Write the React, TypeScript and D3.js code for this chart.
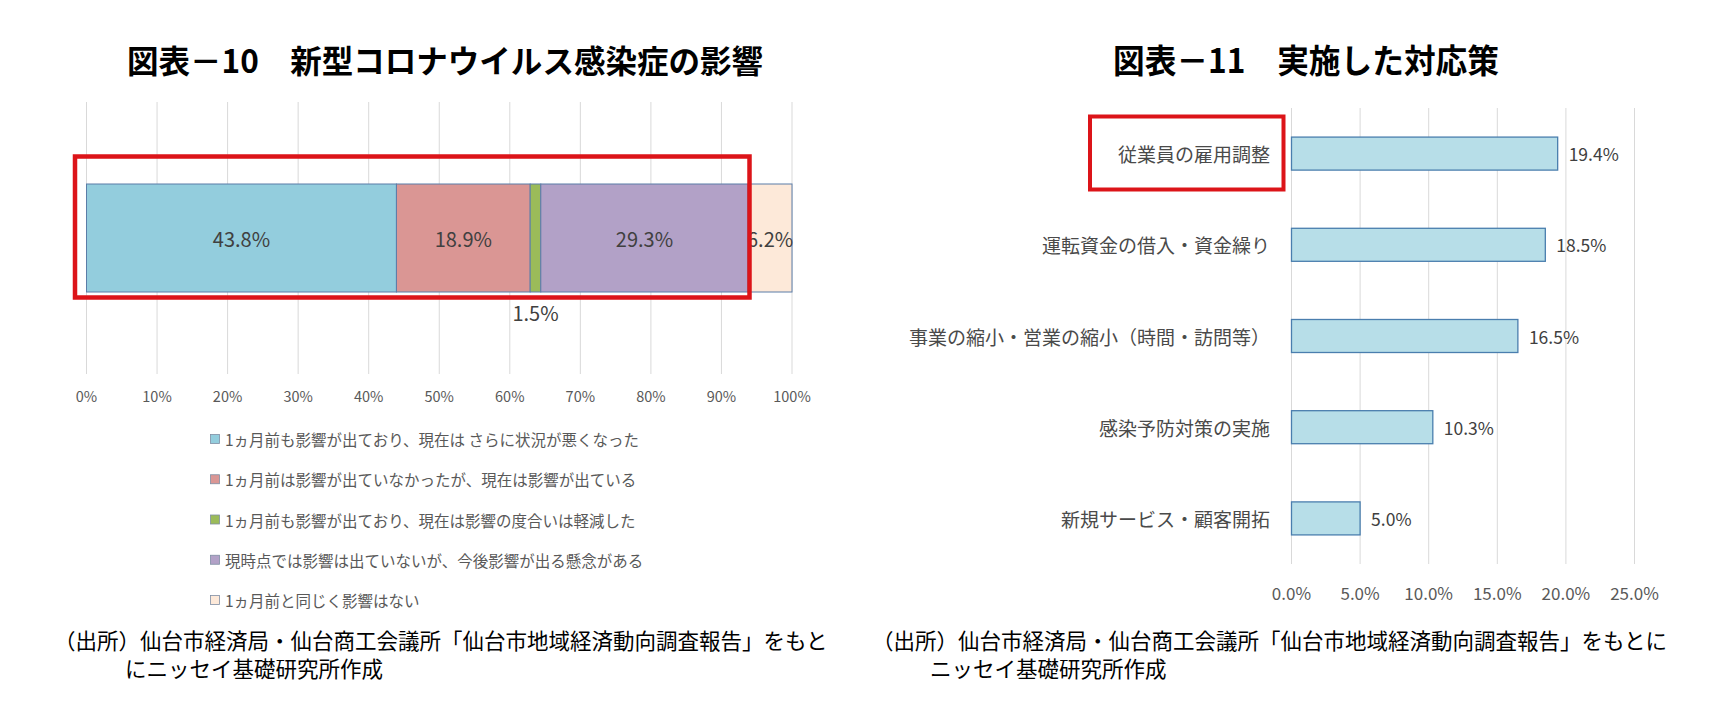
import React from 'react';
import * as d3 from 'd3';

// 図表－10 data (100% stacked bar)
const impactLabels: string[] = [
  '1ヵ月前も影響が出ており、現在は さらに状況が悪くなった',
  '1ヵ月前は影響が出ていなかったが、現在は影響が出ている',
  '1ヵ月前も影響が出ており、現在は影響の度合いは軽減した',
  '現時点では影響は出ていないが、今後影響が出る懸念がある',
  '1ヵ月前と同じく影響はない',
];
const impactValues: number[] = [43.8, 18.9, 1.5, 29.3, 6.2];
const impactColors: string[] = ['#93CDDD', '#DA9694', '#9BBB59', '#B2A1C7', '#FDE9D9'];
const leftTicks: number[] = [0, 0.1, 0.2, 0.3, 0.4, 0.5, 0.6, 0.7, 0.8, 0.9, 1];

// 図表－11 data
const measureCategories: string[] = [
  '従業員の雇用調整',
  '運転資金の借入・資金繰り',
  '事業の縮小・営業の縮小（時間・訪問等）',
  '感染予防対策の実施',
  '新規サービス・顧客開拓',
];
const measureValues: number[] = [19.4, 18.5, 16.5, 10.3, 5.0];
const rightTicks: number[] = [0, 0.05, 0.1, 0.15, 0.2, 0.25];

const titleLeft = '図表－10　新型コロナウイルス感染症の影響';
const titleRight = '図表－11　実施した対応策';
const noteLeft = ['（出所）仙台市経済局・仙台商工会議所「仙台市地域経済動向調査報告」をもと', 'にニッセイ基礎研究所作成'];
const noteRight = ['（出所）仙台市経済局・仙台商工会議所「仙台市地域経済動向調査報告」をもとに', 'ニッセイ基礎研究所作成'];

const FONT = "'Noto Sans CJK JP', 'Noto Sans', sans-serif";
const W = 1719;
const H = 720;

const App = () => {
  // left chart scales
  const xL = d3.scaleLinear().domain([0, 1]).range([86.5, 792]);
  const barTop = 184;
  const barBottom = 292;
  const total = d3.sum(impactValues);
  const stacked = impactValues.map((v, i) => {
    const start = d3.sum(impactValues.slice(0, i)) / total;
    return { v, i, x0: start, x1: start + v / total };
  });
  const legendY = d3.scalePoint<number>().domain(d3.range(impactLabels.length)).range([439, 600]);

  // right chart scales
  const xR = d3.scaleLinear().domain([0, 0.25]).range([1291.5, 1634.5]);
  const yR = d3.scaleBand<string>().domain(measureCategories).range([108, 564]).paddingInner(0.638).paddingOuter(0.319);

  return (
    <svg width={W} height={H} style={{ position: 'absolute', left: 0, top: 0, background: '#fff' }} fontFamily={FONT}>
      <rect width={W} height={H} fill="#fff" />

      {/* ---------- left chart ---------- */}
      <text x={445} y={59} textAnchor="middle" dominantBaseline="central" fontSize={32} fontWeight={700} fill="#000"
        textLength={636} lengthAdjust="spacingAndGlyphs">{titleLeft}</text>

      {leftTicks.map((t) => (
        <g key={'lg' + t}>
          <line x1={xL(t)} x2={xL(t)} y1={102} y2={374} stroke="#d9d9d9" strokeWidth={1} />
          <text x={xL(t)} y={395} textAnchor="middle" dominantBaseline="central" fontSize={14.5} fill="#595959">
            {d3.format('.0%')(t)}
          </text>
        </g>
      ))}

      {stacked.map((s) => (
        <rect key={'seg' + s.i} x={xL(s.x0)} y={barTop} width={xL(s.x1) - xL(s.x0)} height={barBottom - barTop}
          fill={impactColors[s.i]} stroke="#5B7DA8" strokeWidth={1} />
      ))}
      {stacked.map((s) => {
        const small = s.v < 3;
        return (
          <text key={'sl' + s.i} x={xL((s.x0 + s.x1) / 2)} y={small ? 312 : (barTop + barBottom) / 2}
            textAnchor="middle" dominantBaseline="central" fontSize={20} fill="#404040">
            {s.v.toFixed(1)}%
          </text>
        );
      })}

      <rect x={75} y={156.5} width={749.5 - 75} height={297.5 - 156.5} fill="none" stroke="#DC1419" strokeWidth={4.5} />

      {impactLabels.map((lab, i) => (
        <g key={'leg' + i}>
          <rect x={210.5} y={legendY(i)! - 4.5} width={9} height={9} fill={impactColors[i]} stroke="#7f8ea3" strokeWidth={0.8} />
          <text x={225} y={legendY(i)!} dominantBaseline="central" fontSize={15.5} fill="#595959">{lab}</text>
        </g>
      ))}

      {noteLeft.map((line, i) => (
        <text key={'nl' + i} x={i === 0 ? 54 : 125} y={639 + i * 28} dominantBaseline="central" fontSize={21.5} fill="#000">
          {line}
        </text>
      ))}

      {/* ---------- right chart ---------- */}
      <text x={1306} y={59} textAnchor="middle" dominantBaseline="central" fontSize={33} fontWeight={700} fill="#000"
        textLength={386} lengthAdjust="spacingAndGlyphs">{titleRight}</text>

      {rightTicks.map((t) => (
        <g key={'rg' + t}>
          <line x1={xR(t)} x2={xR(t)} y1={108} y2={564} stroke="#d9d9d9" strokeWidth={1} />
          <text x={xR(t)} y={592} textAnchor="middle" dominantBaseline="central" fontSize={17} fill="#595959">
            {d3.format('.1%')(t)}
          </text>
        </g>
      ))}

      {measureCategories.map((c, i) => {
        const y0 = yR(c)!;
        const bw = yR.bandwidth();
        const v = measureValues[i] / 100;
        return (
          <g key={'mb' + i}>
            <rect x={xR(0)} y={y0} width={xR(v) - xR(0)} height={bw} fill="#B7DEE8" stroke="#4A7EAE" strokeWidth={1.3} />
            <text x={xR(v) + 11} y={y0 + bw / 2} dominantBaseline="central" fontSize={17.5} fill="#404040">
              {measureValues[i].toFixed(1)}%
            </text>
            <text x={1270} y={y0 + bw / 2} textAnchor="end" dominantBaseline="central" fontSize={19} fill="#4a4a4a">
              {c}
            </text>
          </g>
        );
      })}

      <rect x={1090} y={116.5} width={1283.5 - 1090} height={189.5 - 116.5} fill="none" stroke="#DC1419" strokeWidth={4} />

      {noteRight.map((line, i) => (
        <text key={'nr' + i} x={i === 0 ? 872 : 930} y={639 + i * 28} dominantBaseline="central" fontSize={21.5} fill="#000">
          {line}
        </text>
      ))}
    </svg>
  );
};

export default App;
